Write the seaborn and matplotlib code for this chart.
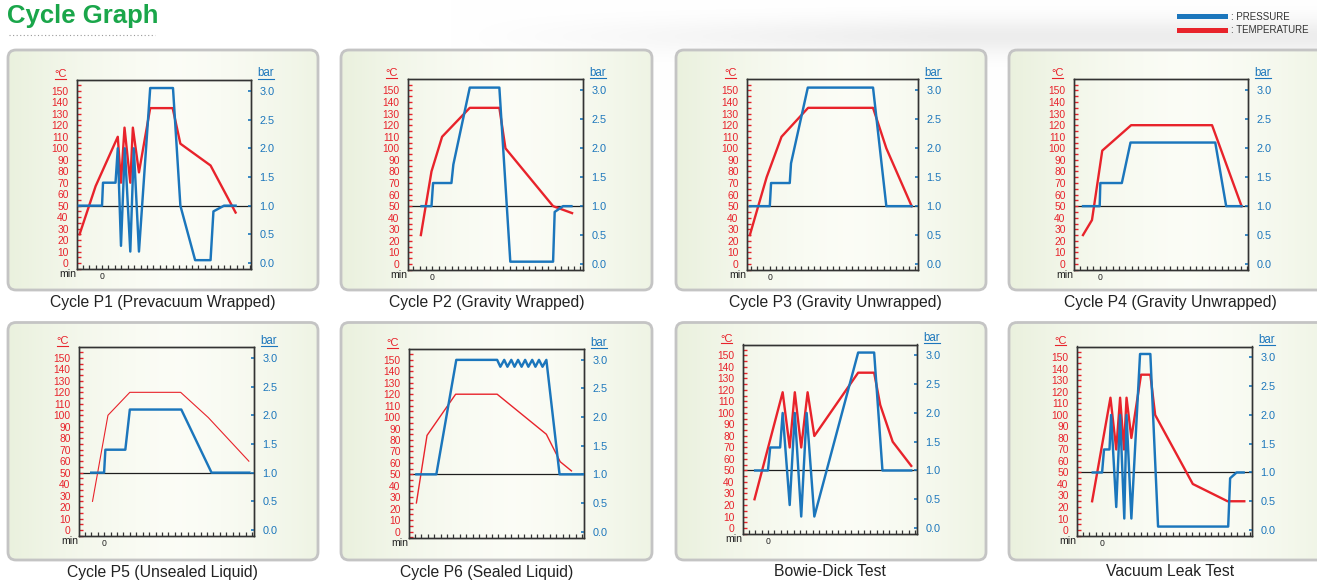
import numpy as np
import matplotlib
matplotlib.use('Agg')
import matplotlib.pyplot as plt
import seaborn as sns
from matplotlib.patches import FancyBboxPatch, Rectangle
from matplotlib.ticker import MultipleLocator, FormatStrFormatter

plt.rcParams['font.family'] = ['Liberation Sans', 'DejaVu Sans']

W, H = 1317, 580
RED = '#e8232b'
BLUE = '#1b76bc'

# ---------------- data (x in minute ticks, temperature in degC, pressure in bar) -------------
titles = ['Cycle P1 (Prevacuum Wrapped)', 'Cycle P2 (Gravity Wrapped)',
          'Cycle P3 (Gravity Unwrapped)', 'Cycle P4 (Gravity Unwrapped)',
          'Cycle P5 (Unsealed Liquid)', 'Cycle P6 (Sealed Liquid)',
          'Bowie-Dick Test', 'Vacuum Leak Test']

p1_temp_x = [-3.5, -1.0, 2.45, 2.95, 3.5, 4.4, 4.8, 5.75, 7.5, 11.0, 12.2, 16.9, 20.8]
p1_temp_y = [25, 67, 110, 70, 118, 70, 118, 79, 135, 135, 104, 85, 44]
p1_pres_x = [-3.6, 0.0, 0.15, 2.1, 2.45, 2.95, 3.55, 4.4, 4.95, 5.75, 7.5, 11.05, 12.2, 14.5, 16.9, 17.35, 19.0, 20.8]
p1_pres_y = [1.0, 1.0, 1.4, 1.4, 2.0, 0.3, 2.0, 0.2, 2.0, 0.2, 3.05, 3.05, 1.0, 0.05, 0.05, 0.9, 1.0, 1.0]

p2_temp_x = [-1.8, -0.15, 1.5, 5.8, 10.4, 11.35, 18.75, 21.7]
p2_temp_y = [25, 80, 110, 135, 135, 100, 50, 44]
p2_pres_x = [-1.7, -0.15, 0.1, 2.95, 3.25, 5.8, 10.4, 12.1, 18.75, 19.0, 20.3, 21.6]
p2_pres_y = [1.0, 1.0, 1.4, 1.4, 1.72, 3.05, 3.05, 0.04, 0.04, 0.9, 1.0, 1.0]

p3_temp_x = [-3.15, -0.5, 1.85, 6.05, 16.3, 18.4, 22.4]
p3_temp_y = [25, 75, 110, 135, 135, 100, 50]
p3_pres_x = [-3.15, 0.0, 0.2, 3.15, 3.35, 6.0, 16.3, 18.4, 22.4]
p3_pres_y = [1.0, 1.0, 1.4, 1.4, 1.74, 3.05, 3.05, 1.0, 1.0]

p4_temp_x = [-2.6, -1.2, 0.4, 4.9, 17.5, 22.1]
p4_temp_y = [25, 38, 98, 120, 120, 50]
p4_pres_x = [-2.6, 0.0, 0.1, 3.45, 4.8, 18.0, 19.7, 22.1]
p4_pres_y = [1.0, 1.0, 1.4, 1.4, 2.1, 2.1, 1.0, 1.0]

p5_temp_x = [-1.8, 0.6, 4.0, 11.9, 16.2, 22.5]
p5_temp_y = [25, 100, 120, 120, 98, 60]
p5_pres_x = [-2.0, 0.0, 0.2, 3.3, 4.0, 12.0, 16.7, 22.6]
p5_pres_y = [1.0, 1.0, 1.4, 1.4, 2.1, 2.1, 1.0, 1.0]

p6_temp_x = [-2.75, -1.1, 3.35, 9.8, 17.45, 19.6, 21.35]
p6_temp_y = [25, 84, 120, 120, 85, 61, 53]
p6_pres_x = [-2.75, 0.35, 3.45, 9.8, 10.3, 10.9, 11.4, 12.0, 12.5, 13.05, 13.6, 14.15,
             14.65, 15.25, 15.75, 16.3, 16.85, 17.45, 19.5, 23.3]
p6_pres_y = [1.0, 1.0, 3.0, 3.0, 2.88, 3.0, 2.88, 3.0, 2.88, 3.0, 2.88, 3.0,
             2.88, 3.0, 2.88, 3.0, 2.88, 3.0, 1.0, 1.0]

p7_temp_x = [-2.1, 2.3, 3.4, 4.2, 5.2, 6.2, 7.25, 14.1, 16.6, 17.55, 19.5, 22.4]
p7_temp_y = [25, 118, 70, 118, 70, 118, 80, 135, 135, 107, 75, 54]
p7_pres_x = [-2.0, 0.0, 0.35, 1.9, 2.3, 3.4, 4.2, 5.2, 6.05, 7.25, 14.1, 16.6, 17.9, 22.4]
p7_pres_y = [1.0, 1.0, 1.4, 1.4, 2.0, 0.4, 2.0, 0.2, 2.0, 0.2, 3.05, 3.05, 1.0, 1.0]

p8_temp_x = [-1.55, 1.3, 2.2, 2.8, 3.4, 3.8, 4.55, 6.05, 7.5, 8.25, 14.1, 19.5, 22.1]
p8_temp_y = [25, 115, 70, 115, 70, 115, 80, 135, 135, 100, 40, 25, 25]
p8_pres_x = [-1.45, 0.0, 0.3, 1.15, 1.4, 2.2, 2.8, 3.45, 3.8, 4.55, 5.9, 7.5, 8.7, 19.6, 19.9, 20.9, 22.0]
p8_pres_y = [1.0, 1.0, 1.4, 1.4, 2.0, 0.4, 2.0, 0.2, 2.0, 0.2, 3.06, 3.06, 0.06, 0.06, 0.9, 1.0, 1.0]

temp_ticks = list(range(0, 151, 10))
pres_ticks = [0.0, 0.5, 1.0, 1.5, 2.0, 2.5, 3.0]
legend_labels = [': PRESSURE', ': TEMPERATURE']

series = [(p1_temp_x, p1_temp_y, p1_pres_x, p1_pres_y),
          (p2_temp_x, p2_temp_y, p2_pres_x, p2_pres_y),
          (p3_temp_x, p3_temp_y, p3_pres_x, p3_pres_y),
          (p4_temp_x, p4_temp_y, p4_pres_x, p4_pres_y),
          (p5_temp_x, p5_temp_y, p5_pres_x, p5_pres_y),
          (p6_temp_x, p6_temp_y, p6_pres_x, p6_pres_y),
          (p7_temp_x, p7_temp_y, p7_pres_x, p7_pres_y),
          (p8_temp_x, p8_temp_y, p8_pres_x, p8_pres_y)]

# ---------------- layout (pixels) ----------------
axes_rects = [(77, 80, 251, 269), (408, 79.5, 583, 270), (747, 79.5, 918, 270), (1074, 79.5, 1248, 270),
              (79, 347, 254, 536), (409, 349, 584, 537.5), (743, 344.5, 917, 534), (1077, 346.5, 1252, 536)]
xlims = [(-3.9, 23.2), (-3.8, 23.4), (-3.6, 23.4), (-4.0, 23.1),
         (-3.9, 23.3), (-3.9, 23.3), (-3.9, 23.3), (-3.9, 23.3)]
show_zero = [True, True, True, True, True, False, True, True]
red_lw = [1.7, 1.7, 1.7, 1.7, 0.8, 1.0, 1.7, 1.7]
boxes = [(8, 50, 318, 290), (341, 50, 652, 290), (676, 50, 986, 290), (1009, 50, 1335, 290),
         (8, 322.5, 318, 560), (341, 322.5, 652, 560), (676, 322.5, 986, 560), (1009, 322.5, 1335, 560)]
captions_xy = [(163, 303), (487, 303), (835, 303), (1170, 303),
               (162.5, 572), (487, 572), (829.5, 572), (1170.5, 572)]
YLIM = (-5.2, 159.5)

fig = plt.figure(figsize=(W / 100, H / 100), dpi=100)
fig.patch.set_facecolor('white')

bg = fig.add_axes([0, 0, 1, 1])
bg.axis('off')

# faint grey haze in the page background (top right)
yy, xx = np.mgrid[0:120, 0:W]
band = np.clip((xx - 450) / 500.0, 0, 1) * np.exp(-((yy - 36) / 18.0) ** 2) * 0.07
bgimg = np.ones((120, W, 3)) - band[..., None]
bg.imshow(bgimg, extent=(0, W, 120, 0), aspect='auto', zorder=0, interpolation='bilinear')

# panel boxes with soft gradient fill
for (x0, y0, x1, y1) in boxes:
    patch = FancyBboxPatch((x0, y0), x1 - x0, y1 - y0,
                           boxstyle='round,pad=0,rounding_size=8',
                           fc='none', ec='#c4c4c4', lw=2.0, zorder=3)
    bg.add_patch(patch)
    gx = np.linspace(0, 1, 200)
    t = np.abs(gx - 0.55) / 0.55
    t = np.clip(t, 0, 1) ** 1.5
    c0 = np.array([0.985, 0.99, 0.965])
    c1 = np.array([0.918, 0.944, 0.870])
    grad = (c0[None, :] * (1 - t[:, None]) + c1[None, :] * t[:, None])[None, :, :]
    grad = np.repeat(grad, 2, axis=0)
    im = bg.imshow(grad, extent=(x0, x1, y1, y0), aspect='auto', zorder=1, interpolation='bilinear')
    im.set_clip_path(patch)

bg.set_xlim(0, W)
bg.set_ylim(H, 0)

# title
bg.text(7, 22.5, 'Cycle Graph', color='#1aa64a', fontsize=18.5, fontweight='bold',
        va='baseline', ha='left', zorder=5)
bg.plot([9, 155], [35, 35], ls=(0, (1, 2.2)), color='#9a9a9a', lw=0.8, zorder=5)

# legend
bg.add_patch(Rectangle((1177, 13.5), 51, 5, fc=BLUE, ec='none', zorder=5))
bg.add_patch(Rectangle((1177, 27.5), 51, 5, fc=RED, ec='none', zorder=5))
bg.text(1231, 16.5, legend_labels[0], fontsize=7, color='#333333', va='center', ha='left', zorder=5)
bg.text(1231, 30, legend_labels[1], fontsize=7, color='#333333', va='center', ha='left', zorder=5)

for i, (tx, ty, px, py) in enumerate(series):
    l, t, r, b = axes_rects[i]
    ax = fig.add_axes([l / W, 1 - b / H, (r - l) / W, (b - t) / H])
    ax.set_facecolor('none')
    ax.axhline(50, color='#1e1e1e', lw=0.9, zorder=1)
    sns.lineplot(x=tx, y=ty, ax=ax, color=RED, lw=red_lw[i], sort=False, estimator=None, zorder=2)
    ax.set_xlim(*xlims[i])
    ax.set_ylim(*YLIM)
    ax.set_yticks(temp_ticks)
    ax.yaxis.set_minor_locator(MultipleLocator(5))
    ax.tick_params(axis='y', which='both', direction='in', colors=RED, labelsize=7.4,
                   pad=6.0, length=2.6, width=1.0, left=True, right=False)
    xt = [k for k in range(-3, 24) if xlims[i][0] <= k <= xlims[i][1]]
    ax.set_xticks(xt)
    ax.set_xticklabels(['0' if (k == 0 and show_zero[i]) else '' for k in xt])
    ax.tick_params(axis='x', which='both', direction='in', length=2.6, width=0.9,
                   color='#333333', labelcolor='#222222', labelsize=6.2, pad=2.0, top=False)
    ax.set_xlabel('')
    ax.set_ylabel('')

    ax2 = ax.twinx()
    sns.lineplot(x=px, y=py, ax=ax2, color=BLUE, lw=1.75, sort=False, estimator=None, zorder=3)
    ax2.set_xlim(*xlims[i])
    ax2.set_ylim(YLIM[0] / 50.0, YLIM[1] / 50.0)
    ax2.set_yticks(pres_ticks)
    ax2.yaxis.set_major_formatter(FormatStrFormatter('%.1f'))
    ax2.tick_params(axis='y', direction='in', colors=BLUE, labelsize=7.8, length=2.2,
                    width=1.2, pad=6.0)
    ax2.set_ylabel('')
    ax2.set_xlabel('')
    for a in (ax, ax2):
        for s in a.spines.values():
            s.set_color('#333333')
            s.set_linewidth(1.0)

    # axis unit labels
    bg.text(l - 9, b + 5, 'min', fontsize=7.6, color='#222222', ha='center', va='center', zorder=5)
    bg.text(l - 16.5, t - 6, '°C', fontsize=8, color=RED, ha='center', va='center', zorder=5)
    bg.plot([l - 22, l - 11], [t - 1.5, t - 1.5], color=RED, lw=0.8, zorder=5)
    bg.text(r + 15, t - 6.5, 'bar', fontsize=8.3, color=BLUE, ha='center', va='center', zorder=5)
    bg.plot([r + 7, r + 23], [t - 1.5, t - 1.5], color=BLUE, lw=0.8, zorder=5)

    cx, cy = captions_xy[i]
    bg.text(cx, cy, titles[i], fontsize=11.3, color='#222222', ha='center', va='center', zorder=5)

fig.savefig('out.png', dpi=100, facecolor='white')
